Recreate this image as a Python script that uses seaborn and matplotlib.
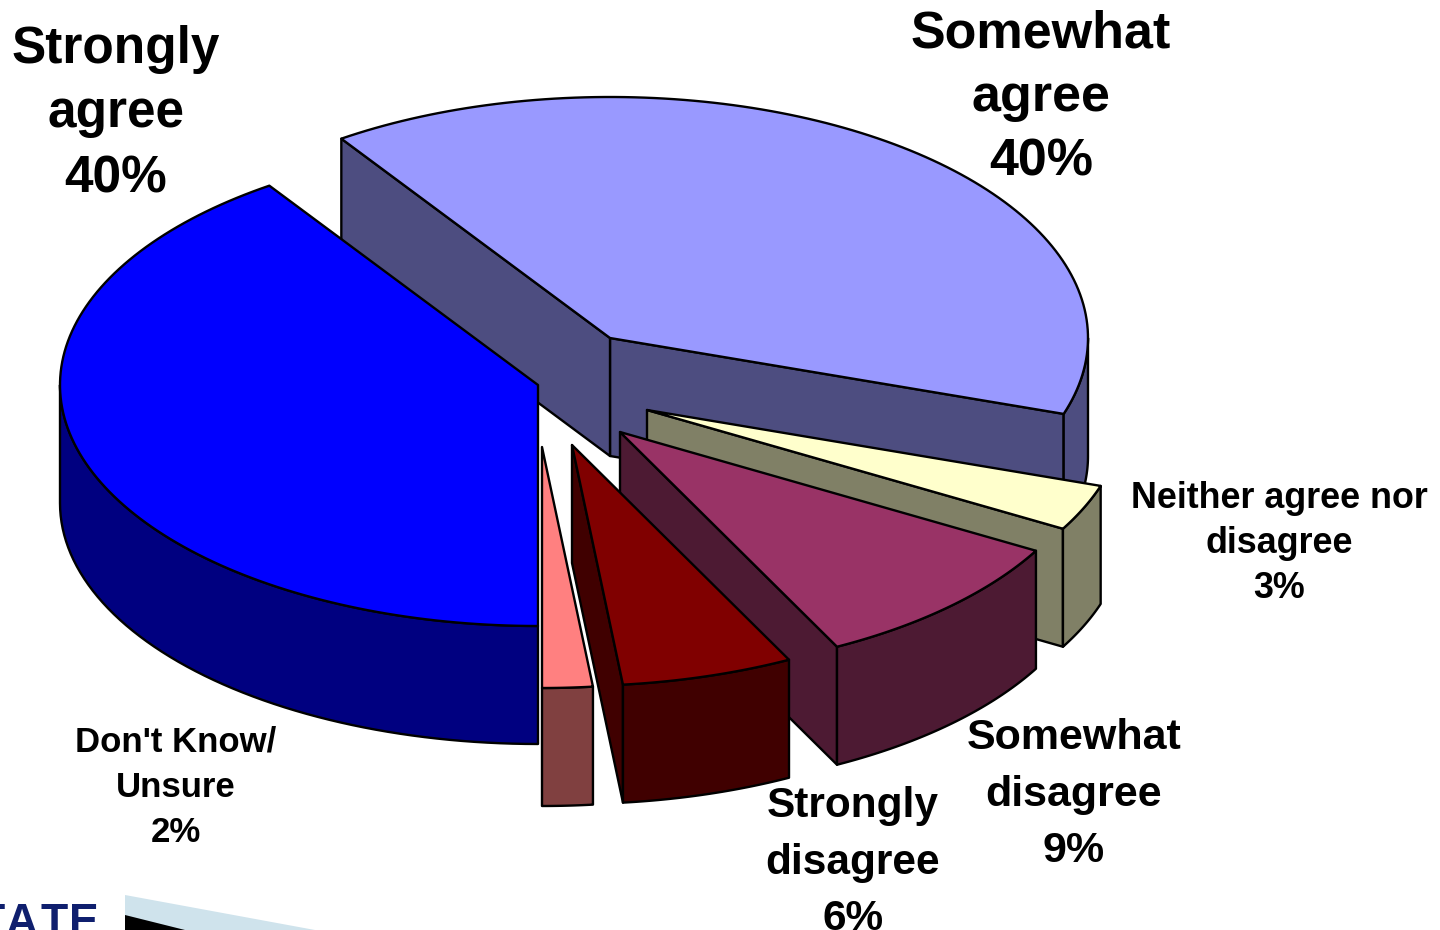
import numpy as np
import matplotlib
matplotlib.use("Agg")
import matplotlib.pyplot as plt
import seaborn as sns

# slices in drawing-angle order, starting at the front and going round to the right
names = ["Don't Know/\nUnsure", "Strongly\ndisagree", "Somewhat\ndisagree",
         "Neither agree nor\ndisagree", "Somewhat\nagree", "Strongly\nagree"]
shares = [1.7, 5.8, 9.3, 3.1, 39.6, 40.5]  # measured from the slice edges
pct_labels = [2, 6, 9, 3, 40, 40]

top_colors = ["#ff8080", "#800000", "#993366", "#ffffcc", "#9999ff", "#0000ff"]
side_colors = ["#804040", "#400000", "#4d1a33", "#808066", "#4d4d80", "#000080"]

# exploded slice tips, pie radii and thickness in pixels
tip_x = [542, 572, 620, 647, 610, 538]
tip_y = [447, 445, 432, 410, 338, 385]
RX, RY, DEPTH = 478, 241, 118
LW = 1.7

# back slices first so the front ones cover them
draw_order = [4, 3, 2, 1, 0, 5]

# label layout: center x, first baseline, line gap, font size
label_x = [176, 853, 1074, 1279, 1041, 116]
label_y = [751, 817, 749, 508, 47, 63]
label_gap = [45.5, 56.5, 56.5, 45, 64.5, 64.5]
label_size = [25, 30.5, 31, 25.8, 37.5, 37]

sns.set_theme(style="white")
plt.rcParams["font.family"] = ["Liberation Sans", "DejaVu Sans"]

fig = plt.figure(figsize=(14.4, 9.3), dpi=100)
ax = fig.add_axes([0, 0, 1, 1])
ax.set_xlim(0, 1440)
ax.set_ylim(930, 0)
sns.despine(ax=ax, left=True, bottom=True)
ax.set_xticks([])
ax.set_yticks([])

edges = np.concatenate([[0], np.cumsum(shares)]) * 360 / sum(shares)


def rim(cx, cy, deg):
    rad = np.radians(deg)
    return cx + RX * np.sin(rad), cy + RY * np.cos(rad)


def face(xs, ys, color):
    ax.fill(xs, ys, facecolor=color, edgecolor="black", linewidth=LW, joinstyle="round")


for i in draw_order:
    t0, t1 = edges[i], edges[i + 1]
    cx, cy = tip_x[i], tip_y[i]

    # cut faces, only the ones turned to the viewer
    for deg, visible in [(t0, np.sin(np.radians(t0)) > 0.01), (t1, np.sin(np.radians(t1)) < -0.01)]:
        if visible:
            px, py = rim(cx, cy, deg)
            face([cx, px, px, cx], [cy, py, py + DEPTH, cy + DEPTH], side_colors[i])

    # outer wall, front half of the rim only
    for low, high in [(t0, min(t1, 90)), (max(t0, 270), t1)]:
        if high > low:
            xs, ys = rim(cx, cy, np.linspace(low, high, 60))
            face(np.concatenate([xs, xs[::-1]]), np.concatenate([ys, ys[::-1] + DEPTH]), side_colors[i])

    # top of the slice
    xs, ys = rim(cx, cy, np.linspace(t0, t1, 120))
    face(np.concatenate([[cx], xs]), np.concatenate([[cy], ys]), top_colors[i])

# labels
for i, name in enumerate(names):
    lines = name.split("\n") + [f"{pct_labels[i]}%"]
    for j, line in enumerate(lines):
        ax.text(label_x[i], label_y[i] + j * label_gap[i], line, ha="center", va="baseline",
                fontsize=label_size[i], fontweight="bold", color="black")

# bit of the slide template showing in the bottom corner
for x, letter in zip([-9, 22, 54, 84], "TATE"):
    ax.text(x, 935, letter, ha="center", va="baseline", fontsize=32, fontweight="bold",
            color="#0f1f6e", clip_on=True)
ax.fill([125, 315, 125], [895, 930, 930], color="#cfe3ec", linewidth=0)
ax.fill([125, 185, 125], [915, 930, 930], color="black", linewidth=0)

plt.savefig("out.png", dpi=100)
plt.close()
